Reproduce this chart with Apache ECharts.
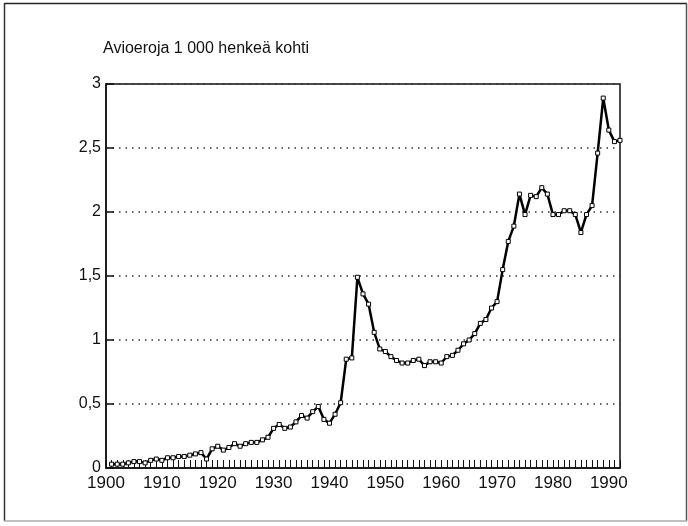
<!DOCTYPE html>
<html>
<head>
<meta charset="utf-8">
<title>Avioeroja 1 000 henkeä kohti</title>
<script src="https://cdn.jsdelivr.net/npm/echarts@6/dist/echarts.min.js"></script>
<style>
  html, body { margin: 0; padding: 0; background: #fff; }
  #chart { width: 688px; height: 526px; }
</style>
</head>
<body>
<div id="chart"></div>
<script>
// divorces per 1000 inhabitants, Finland
const years = [
  1901, 1902, 1903, 1904, 1905, 1906, 1907, 1908, 1909, 1910,
  1911, 1912, 1913, 1914, 1915, 1916, 1917, 1918, 1919, 1920,
  1921, 1922, 1923, 1924, 1925, 1926, 1927, 1928, 1929, 1930,
  1931, 1932, 1933, 1934, 1935, 1936, 1937, 1938, 1939, 1940,
  1941, 1942, 1943, 1944, 1945, 1946, 1947, 1948, 1949, 1950,
  1951, 1952, 1953, 1954, 1955, 1956, 1957, 1958, 1959, 1960,
  1961, 1962, 1963, 1964, 1965, 1966, 1967, 1968, 1969, 1970,
  1971, 1972, 1973, 1974, 1975, 1976, 1977, 1978, 1979, 1980,
  1981, 1982, 1983, 1984, 1985, 1986, 1987, 1988, 1989, 1990,
  1991, 1992
];
const rates = [
  0.03, 0.03, 0.03, 0.04, 0.05, 0.05, 0.04, 0.06, 0.07, 0.06,
  0.08, 0.08, 0.09, 0.09, 0.10, 0.11, 0.12, 0.07, 0.15, 0.17,
  0.14, 0.16, 0.19, 0.17, 0.19, 0.20, 0.20, 0.22, 0.24, 0.31,
  0.34, 0.31, 0.32, 0.36, 0.41, 0.39, 0.44, 0.48, 0.38, 0.35,
  0.42, 0.51, 0.85, 0.86, 1.49, 1.36, 1.28, 1.06, 0.93, 0.91,
  0.87, 0.84, 0.82, 0.82, 0.84, 0.85, 0.80, 0.83, 0.83, 0.82,
  0.87, 0.88, 0.92, 0.97, 1.00, 1.05, 1.13, 1.16, 1.25, 1.30,
  1.55, 1.77, 1.89, 2.14, 1.98, 2.13, 2.12, 2.19, 2.14, 1.98,
  1.98, 2.01, 2.01, 1.98, 1.84, 1.98, 2.05, 2.46, 2.89, 2.64,
  2.55, 2.56
];
const decadeLabels = [1900, 1910, 1920, 1930, 1940, 1950, 1960, 1970, 1980, 1990];
const yTicks = [0, 0.5, 1, 1.5, 2, 2.5, 3];

const font = "'Liberation Sans', Arial, sans-serif";
const points = years.map((y, i) => [y, rates[i]]);

const myChart = echarts.init(document.getElementById("chart"));
const option = {
  backgroundColor: "#fff",
  animation: false,
  title: {
    text: "Avioeroja 1 000 henkeä kohti",
    left: 98,
    top: 36,
    textStyle: { fontFamily: font, fontSize: 16, fontWeight: "normal", color: "#111" }
  },
  // outer frame of the figure
  graphic: [
    { type: "line", shape: { x1: 4, y1: 3.5, x2: 687, y2: 3.5 }, style: { stroke: "#222", lineWidth: 1.5 }, silent: true },
    { type: "line", shape: { x1: 4.5, y1: 3, x2: 4.5, y2: 521 }, style: { stroke: "#333", lineWidth: 1.5 }, silent: true },
    { type: "line", shape: { x1: 686.5, y1: 3, x2: 686.5, y2: 521 }, style: { stroke: "#555", lineWidth: 1.5 }, silent: true },
    { type: "line", shape: { x1: 4, y1: 521, x2: 687, y2: 521 }, style: { stroke: "#aaa", lineWidth: 1.5 }, silent: true }
  ],
  grid: {
    left: 106,
    right: 68,
    top: 84,
    bottom: 58,
    show: true,
    borderColor: "#111",
    borderWidth: 1.5
  },
  xAxis: {
    type: "value",
    min: 1900,
    max: 1992,
    interval: 1,
    axisLine: { lineStyle: { color: "#111", width: 1.5 } },
    axisTick: { inside: true, length: 8, lineStyle: { color: "#111", width: 1 } },
    axisLabel: {
      margin: 7,
      fontFamily: font,
      fontSize: 17,
      color: "#111",
      formatter: v => (decadeLabels.includes(v) ? String(v) : "")
    },
    splitLine: { show: false }
  },
  yAxis: {
    type: "value",
    min: yTicks[0],
    max: yTicks[yTicks.length - 1],
    interval: 0.5,
    axisLine: { show: true, lineStyle: { color: "#111", width: 1.5 } },
    axisTick: { show: true, inside: true, length: 8, lineStyle: { color: "#111", width: 1.5 } },
    axisLabel: {
      margin: 5,
      fontFamily: font,
      fontSize: 16,
      color: "#111",
      formatter: v => String(v).replace(".", ",")
    },
    splitLine: { lineStyle: { color: "#333", width: 1.5, type: [1.5, 5] } }
  },
  series: [
    {
      type: "line",
      data: points,
      symbol: "rect",
      symbolSize: 4,
      showAllSymbol: true,
      lineStyle: { color: "#000", width: 2.5 },
      itemStyle: { color: "#fff", borderColor: "#000", borderWidth: 1 },
      z: 5
    }
  ]
};
myChart.setOption(option);
</script>
</body>
</html>
